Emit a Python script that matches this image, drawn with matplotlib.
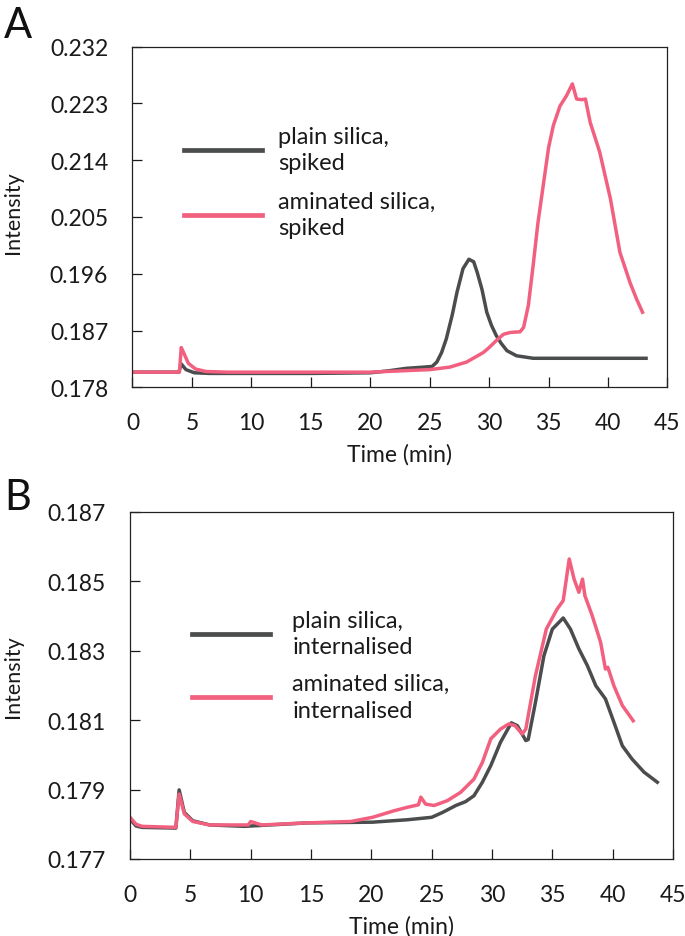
import numpy as np
import matplotlib
matplotlib.use("Agg")
import matplotlib.pyplot as plt
from matplotlib.legend_handler import HandlerLine2D

plt.rcParams['font.family'] = ['Lato', 'DejaVu Sans']

# ---- panel A : spiked ----
a_plain_t = [0.0, 3.9, 4.1, 4.5, 5.2, 6.5, 15.0, 20.0, 21.5, 23.0, 24.5, 25.2, 25.6, 26.0,
             26.4, 26.9, 27.3, 27.8, 28.3, 28.7, 29.0, 29.4, 29.8, 30.2, 30.6, 31.0, 31.5,
             32.3, 33.7, 36.0, 43.2]
a_plain_i = [0.1804, 0.1804, 0.1817, 0.1808, 0.1803, 0.1802, 0.1802, 0.1803, 0.1806, 0.1810,
             0.1812, 0.1813, 0.1820, 0.1835, 0.1857, 0.1895, 0.1931, 0.1968, 0.1983, 0.1979,
             0.1962, 0.1935, 0.1899, 0.1878, 0.1862, 0.1850, 0.1838, 0.1830, 0.1826, 0.1826,
             0.1826]
a_amin_t = [0.0, 3.95, 4.1, 4.3, 4.7, 5.3, 6.2, 8.0, 20.0, 22.5, 25.0, 26.7, 28.1, 29.5,
            30.0, 30.6, 31.2, 31.8, 32.6, 32.9, 33.3, 33.7, 34.1, 34.55, 35.0, 35.4, 35.96,
            36.5, 37.0, 37.36, 37.8, 38.1, 38.5, 39.3, 40.2, 41.0, 41.85, 42.4, 42.9]
a_amin_i = [0.1804, 0.1804, 0.1843, 0.1835, 0.1818, 0.1809, 0.1805, 0.1804, 0.1804, 0.1806,
            0.1808, 0.1812, 0.1820, 0.1835, 0.1843, 0.1854, 0.1864, 0.1867, 0.1868, 0.1875,
            0.1910, 0.1973, 0.2040, 0.2100, 0.2160, 0.2195, 0.2226, 0.2242, 0.2261, 0.2237,
            0.2236, 0.2237, 0.2200, 0.2153, 0.2079, 0.1994, 0.1946, 0.1920, 0.1899]

# ---- panel B : internalised ----
b_plain_t = [0.0, 0.5, 1.0, 3.8, 4.07, 4.5, 5.2, 6.6, 9.5, 14.7, 20.1, 23.0, 25.0, 25.9,
             27.0, 27.8, 28.5, 29.2, 29.9, 30.7, 31.6, 32.1, 32.8, 33.0, 33.6, 34.3, 35.0,
             35.9, 36.5, 37.2, 37.9, 38.6, 39.4, 40.1, 40.8, 41.6, 42.6, 43.7]
b_plain_i = [0.17815, 0.17795, 0.17791, 0.17789, 0.17899, 0.17834, 0.17810, 0.17798,
             0.17794, 0.17804, 0.17806, 0.17813, 0.17820, 0.17834, 0.17854, 0.17865,
             0.17882, 0.17921, 0.17969, 0.18036, 0.18092, 0.18084, 0.18041, 0.18044,
             0.18151, 0.18285, 0.18362, 0.18394, 0.18362, 0.18305, 0.18257, 0.18199,
             0.18161, 0.18094, 0.18026, 0.17988, 0.17950, 0.17921]
b_amin_t = [0.0, 0.5, 1.0, 3.8, 4.07, 4.5, 5.2, 6.6, 9.8, 10.0, 10.9, 14.7, 18.3, 20.1,
            21.9, 23.0, 23.9, 24.1, 24.5, 25.2, 26.3, 27.4, 28.5, 29.2, 29.9, 30.7, 31.4,
            31.9, 32.5, 32.8, 33.6, 34.5, 35.4, 35.9, 36.4, 36.8, 37.2, 37.5, 37.7, 38.3,
            39.0, 39.4, 39.6, 40.1, 40.8, 41.7]
b_amin_i = [0.17820, 0.17800, 0.17794, 0.17791, 0.17887, 0.17830, 0.17808, 0.17798,
            0.17798, 0.17808, 0.17798, 0.17804, 0.17808, 0.17820, 0.17839, 0.17849,
            0.17856, 0.17878, 0.17858, 0.17854, 0.17868, 0.17892, 0.17930, 0.17978,
            0.18046, 0.18074, 0.18089, 0.18084, 0.18060, 0.18074, 0.18228, 0.18362,
            0.18420, 0.18444, 0.18564, 0.18506, 0.18468, 0.18506, 0.18458, 0.18401,
            0.18324, 0.18247, 0.18252, 0.18199, 0.18142, 0.18098]

x_ticks = [0, 5, 10, 15, 20, 25, 30, 35, 40, 45]
a_yticks = [0.178, 0.187, 0.196, 0.205, 0.214, 0.223, 0.232]
b_yticks = [0.177, 0.179, 0.181, 0.183, 0.185, 0.187]

GRAY = '#4a4c4d'
PINK = '#f2607f'
FS = 16.5
LFS = 17


class RaisedLine(HandlerLine2D):
    # legend line sits a bit above the middle of the two-line label
    def get_ydata(self, legend, xdescent, ydescent, width, height, fontsize):
        y = super().get_ydata(legend, xdescent, ydescent, width, height, fontsize)
        return y + 4.3


fig = plt.figure(figsize=(6.85, 9.37), dpi=100)
axA = fig.add_axes([0.1934, 0.5856, 0.781, 0.3635])
axB = fig.add_axes([0.1898, 0.0822, 0.7927, 0.3706])


def style(ax, yticks):
    ax.set_xlim(0, 45)
    ax.set_ylim(yticks[0], yticks[-1])
    ax.set_xticks(x_ticks)
    ax.set_yticks(yticks)
    ax.set_yticklabels(['%.3f' % v for v in yticks])
    ax.tick_params(direction='in', length=7, width=0.9, labelsize=FS, colors='#1a1a1a')
    ax.tick_params(axis='x', pad=18)
    ax.tick_params(axis='y', pad=17.5)
    for s in ax.spines.values():
        s.set_linewidth(0.9)
        s.set_color('#222222')


def make_legend(ax, anchor, textpad, spacing):
    leg = ax.legend(loc='upper left', bbox_to_anchor=anchor, frameon=False, fontsize=LFS,
                    handlelength=3.3, handletextpad=textpad, labelspacing=spacing,
                    borderpad=0, borderaxespad=0, handler_map={plt.Line2D: RaisedLine()})
    for h in leg.get_lines():
        h.set_linewidth(3.4)
    for t in leg.get_texts():
        t.set_color('#1a1a1a')
        t.set_linespacing(1.33)
    return leg


axA.plot(a_plain_t, a_plain_i, color=GRAY, lw=2.5, label='plain silica,\nspiked')
axA.plot(a_amin_t, a_amin_i, color=PINK, lw=2.5, label='aminated silica,\nspiked')
style(axA, a_yticks)
make_legend(axA, (0.096, 0.768), 0.7, 0.74)

axB.plot(b_plain_t, b_plain_i, color=GRAY, lw=2.5, label='plain silica,\ninternalised')
axB.plot(b_amin_t, b_amin_i, color=PINK, lw=2.5, label='aminated silica,\ninternalised')
style(axB, b_yticks)
make_legend(axB, (0.114, 0.718), 0.96, 0.67)

for ax in (axA, axB):
    ax.set_xlabel('Time (min)', fontsize=FS, labelpad=7, color='#1a1a1a')

fig.text(13 / 685, 1 - 213 / 937, 'Intensity', rotation=90, fontsize=15.5,
         ha='center', va='center', color='#1a1a1a')
fig.text(13 / 685, 1 - 677 / 937, 'Intensity', rotation=90, fontsize=15.5,
         ha='center', va='center', color='#1a1a1a')
fig.text(4 / 685, 1 - 38 / 937, 'A', fontsize=30, ha='left', va='baseline', color='#111111')
fig.text(4 / 685, 1 - 510 / 937, 'B', fontsize=30, ha='left', va='baseline', color='#111111')

fig.savefig('out.png', dpi=100)
